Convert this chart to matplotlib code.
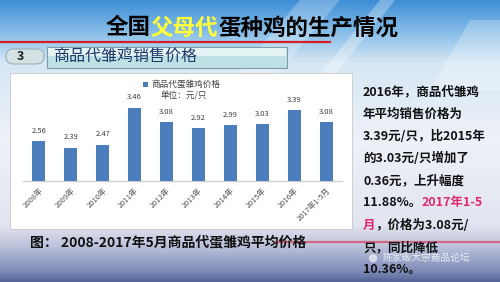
import numpy as np
import matplotlib
matplotlib.use('Agg')
from matplotlib import pyplot as plt
from matplotlib.colors import LinearSegmentedColormap
from matplotlib.patches import Rectangle, FancyBboxPatch, Polygon

plt.rcParams['font.family'] = ['Noto Sans CJK SC', 'DejaVu Sans']

# 数据
years = ['2008年', '2009年', '2010年', '2011年', '2012年', '2013年',
         '2014年', '2015年', '2016年', '2017年1-5月']
prices = [2.56, 2.39, 2.47, 3.46, 3.08, 2.92, 2.99, 3.03, 3.39, 3.08]
series_name = '商品代蛋雏鸡价格'
unit_text = '单位：元/只'

title_parts = [('全国', 'black'), ('父母代', '#ffff3a'), ('蛋种鸡的生产情况', 'black')]
tab_text = '商品代雏鸡销售价格'
caption = '图： 2008-2017年5月商品代蛋雏鸡平均价格'
side_lines = [
    [('2016年，商品代雏鸡', '#111111')],
    [('年平均销售价格为', '#111111')],
    [('3.39元/只，比2015年', '#111111')],
    [('的3.03元/只增加了', '#111111')],
    [('0.36元，上升幅度', '#111111')],
    [('11.88%。', '#111111'), ('2017年1-5', '#e0286e')],
    [('月', '#e0286e'), ('，价格为3.08元/', '#111111')],
    [('只，同比降低', '#111111')],
    [('10.36%。', '#111111')],
]
watermark = '陈家畈大宗商品论坛'

W, H = 500, 282
fig = plt.figure(figsize=(5, 2.82), dpi=100)

# 背景层，用像素坐标
bg = fig.add_axes([0, 0, 1, 1])
bg.set_xlim(0, W)
bg.set_ylim(H, 0)
bg.axis('off')

stops = [(0.0, '#3f8fd6'), (0.11, '#86bde8'), (0.22, '#d6e7f5'), (0.5, '#eef1f8'),
         (0.8, '#e2e5f0'), (0.88, '#b9c0d9'), (0.97, '#7b88b6'), (1.0, '#56669a')]
cmap = LinearSegmentedColormap.from_list('bg', stops)
grad = np.linspace(0, 1, 300).reshape(-1, 1)
bg.imshow(grad, cmap=cmap, aspect='auto', extent=[0, W, H, 0], zorder=0)

# 右上角的白色斜纹
for pts, a in [([(300, 0), (340, 0), (230, 130), (190, 130)], 0.25),
               ([(380, 0), (395, 0), (290, 130), (275, 130)], 0.3),
               ([(470, 20), (500, 20), (500, 90), (430, 90)], 0.25)]:
    bg.add_patch(Polygon(pts, closed=True, fc='white', ec='none', alpha=a, zorder=1))

# 标题
x = 106
for txt, col in title_parts:
    t = bg.text(x, 28, txt, fontsize=16.2, fontweight='bold', color=col,
                ha='left', va='center', zorder=5)
    fig.canvas.draw()
    bb = t.get_window_extent()
    x += bb.width
bg.plot([0, 330], [42, 42], color='#d41e2a', lw=1.6, zorder=4)

# 小标签
bg.add_patch(FancyBboxPatch((6, 49), 38, 15, boxstyle='round,pad=0,rounding_size=7.5',
                            fc='#d4e2e4', ec='#8aa0a8', lw=0.6, zorder=4))
bg.text(20, 57, '3', fontsize=9, fontweight='bold', style='italic', color='#222222',
        ha='center', va='center', zorder=5)
bg.add_patch(Rectangle((47, 47), 240, 21, fc='#bfe0e4', ec='#7f9ca4', lw=0.8, zorder=4))
bg.add_patch(Rectangle((48, 48), 238, 8, fc='#e4f3f4', ec='none', zorder=4))
bg.text(53, 57.5, tab_text, fontsize=11.5, fontweight='medium', color='#1c3868',
        ha='left', va='center', zorder=5)

# 图表面板
bg.add_patch(Rectangle((10, 73), 342, 156, fc='white', ec='#c8c8c8', lw=0.6, zorder=3))

# 图注
bg.plot([275, 500], [242, 242], color='#d8506e', lw=1.6, alpha=0.8, zorder=4)
bg.text(30, 242, caption, fontsize=10, fontweight='bold', color='#111111',
        ha='left', va='center', zorder=5)

# 右侧说明文字
y = 92
for line in side_lines:
    x = 363
    for txt, col in line:
        t = bg.text(x, y, txt, fontsize=9, fontweight='bold', color=col,
                    ha='left', va='center', zorder=5)
        fig.canvas.draw()
        x += t.get_window_extent().width
    y += 22.2

# 水印（放在两行文字之间）
bg.text(382, 258.3, watermark, fontsize=7, color='white', alpha=0.8,
        ha='left', va='center', zorder=6)
bg.add_patch(plt.Circle((373, 258.3), 4.2, fc='white', ec='none', alpha=0.6, zorder=6))

# 柱状图
ax = fig.add_axes([23 / W, (H - 181) / H, (342 - 23) / W, (181 - 80) / H])
ax.patch.set_alpha(0)
xs = np.arange(len(years))
bars = ax.bar(xs, prices, width=0.41, color='#4a7ebb', zorder=3)
ax.set_xlim(-0.5, len(years) - 0.5)
ax.set_ylim(1.5, 4.2)
for b, v in zip(bars, prices):
    ax.annotate(f'{v:.2f}', (b.get_x() + b.get_width() / 2, v), xytext=(0, 4.5),
                textcoords='offset points', ha='center', va='bottom',
                fontsize=5.5, color='#404040')
for s in ['top', 'right', 'left']:
    ax.spines[s].set_visible(False)
ax.spines['bottom'].set_color('#d0d0d0')
ax.spines['bottom'].set_linewidth(1)
ax.set_yticks([])
ax.set_xticks(xs)
ax.set_xticklabels(years, rotation=45, ha='right', va='top', rotation_mode='anchor',
                   fontsize=5.5, color='#505050')
ax.tick_params(axis='x', length=0, pad=4)

# 图例和单位
bg.add_patch(Rectangle((143, 81.5), 5, 5, fc='#4a7ebb', ec='none', zorder=6))
bg.text(152, 84, series_name, fontsize=6.2, color='#404040', ha='left', va='center', zorder=6)
bg.text(184, 95.5, unit_text, fontsize=6.2, color='#404040', ha='center', va='center', zorder=6)

fig.savefig('out.png', dpi=100)
